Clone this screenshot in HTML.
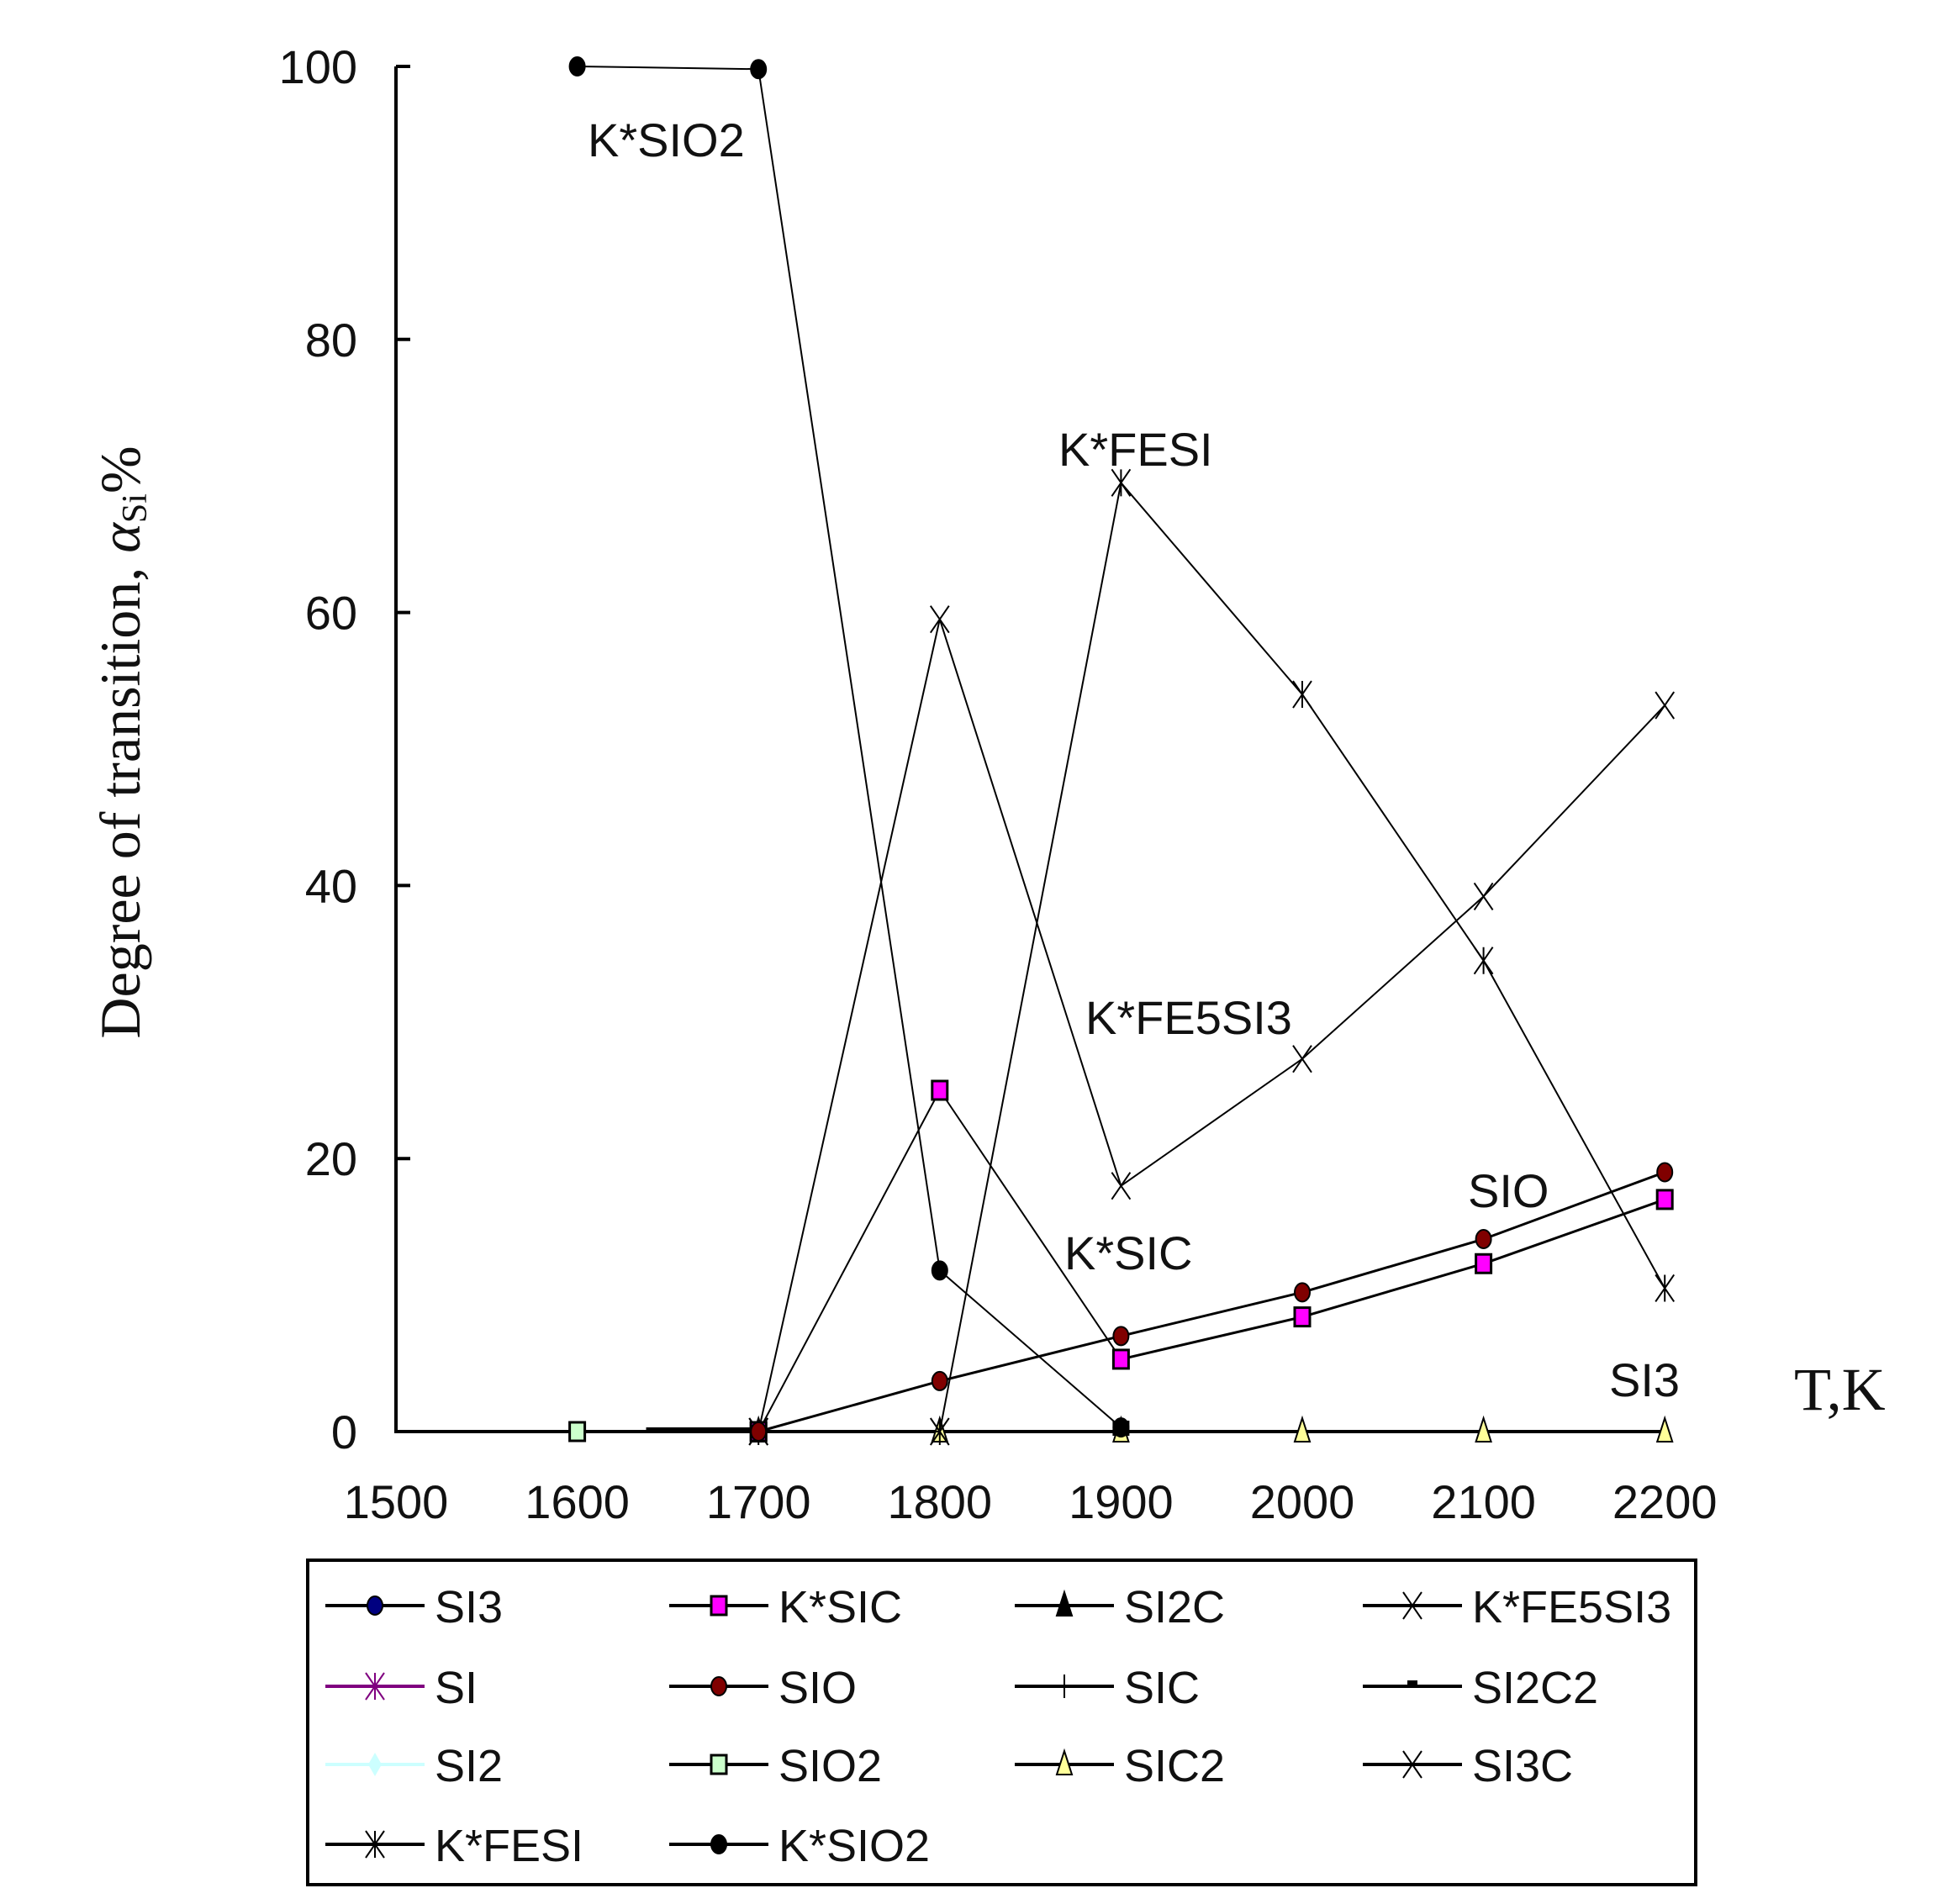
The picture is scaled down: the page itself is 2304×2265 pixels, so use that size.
<!DOCTYPE html>
<html><head><meta charset="utf-8"><style>
html,body{margin:0;padding:0;background:#fff;}
svg{display:block;}
text{font-family:"Liberation Sans",sans-serif;}
</style></head><body>
<svg id="chart" width="2304" height="2265" viewBox="0 0 2304 2265" xmlns="http://www.w3.org/2000/svg">
<g id="plot"></g>
<g id="labels">
<text x="699" y="186" font-size="56" fill="#111">K*SIO2</text>
<text x="1259" y="554" font-size="56" fill="#111">K*FESI</text>
<text x="1291" y="1230" font-size="56" fill="#111">K*FE5SI3</text>
<text x="1266" y="1510" font-size="56" fill="#111">K*SIC</text>
<text x="1746" y="1436" font-size="56" fill="#111">SIO</text>
<text x="1914" y="1661" font-size="56" fill="#111">SI3</text>
</g>
<text x="2134" y="1677" font-size="72" style="font-family:'Liberation Serif',serif" fill="#111">T,K</text>
<text transform="translate(166,883) rotate(-90)" text-anchor="middle" font-size="68" style="font-family:'Liberation Serif',serif" fill="#111">Degree of transition, <tspan font-style="italic">α</tspan><tspan font-size="42" dy="8">Si</tspan><tspan dy="-8">%</tspan></text>
<g id="legend"></g>
</svg>
<script>
const xTicks = [1500,1600,1700,1800,1900,2000,2100,2200];
const yTicks = [0,20,40,60,80,100];
const temps = [1600,1700,1800,1900,2000,2100,2200];
const ksio2 = [100,99.8,11.8,0.3,null,null,null];
const kfesi = [null,0,0,69.5,54,34.5,10.5];
const kfe5si3 = [null,0,59.5,18,27.3,39.2,53.2];
const ksic = [null,0,25,5.3,8.4,12.3,17];
const sio = [null,0,3.7,7,10.2,14.1,19];
const sio2 = [0,0,null,null,null,null,null];
const zeroSeries = [null,0,0,0,0,0,0];
const legendNames = ["SI3","K*SIC","SI2C","K*FE5SI3","SI","SIO","SIC","SI2C2","SI2","SIO2","SIC2","SI3C","K*FESI","K*SIO2"];

const NS="http://www.w3.org/2000/svg";
const X0=471, XS=215.6, Y0=1703, YS=16.24;
const xs=v=>X0+(v-1500)/100*XS;
const ys=v=>Y0-v*YS;
function mk(parent,tag,attrs){const e=document.createElementNS(NS,tag);for(const k in attrs)e.setAttribute(k,attrs[k]);parent.appendChild(e);return e;}
const plot=document.getElementById('plot');

let ax=mk(plot,'path',{d:`M${X0} ${ys(100)} V${Y0} H${xs(2200)+5}`,stroke:'#000','stroke-width':4,fill:'none'});


yTicks.forEach(t=>{
  const tk=mk(plot,'line',{x1:X0,x2:X0+17,y1:ys(t),y2:ys(t),stroke:'#000','stroke-width':4});
  
  
  const tl=mk(plot,'text',{x:425,y:ys(t)+20,'text-anchor':'end','font-size':56,fill:'#111'});
  tl.textContent=t;
  
  
});
xTicks.forEach(t=>{
  const tl=mk(plot,'text',{x:xs(t),y:1806,'text-anchor':'middle','font-size':56,fill:'#111'});
  tl.textContent=t;
  
  
});
const zs=mk(plot,'line',{x1:xs(1638),x2:xs(1700),y1:Y0-2,y2:Y0-2,stroke:'#000','stroke-width':6});



function marker(g,type,x,y,fill){
  let e;
  if(type==='circle') e=mk(g,'ellipse',{cx:x,cy:y,rx:9,ry:11,fill:fill,stroke:'#000','stroke-width':2});
  else if(type==='square') e=mk(g,'rect',{x:x-9,y:y-11,width:18,height:22,fill:fill,stroke:'#000','stroke-width':3});
  else if(type==='tri') e=mk(g,'path',{d:`M${x} ${y-16} L${x+9} ${y+12} L${x-9} ${y+12}Z`,fill:fill,stroke:'#000','stroke-width':2});
  else if(type==='x') e=mk(g,'path',{d:`M${x-11} ${y-16}L${x+11} ${y+16}M${x+11} ${y-16}L${x-11} ${y+16}`,stroke:'#000','stroke-width':2,fill:'none'});
  else if(type==='star') e=mk(g,'path',{d:`M${x-11} ${y-16}L${x+11} ${y+16}M${x+11} ${y-16}L${x-11} ${y+16}M${x} ${y-16}V${y+16}`,stroke:'#000','stroke-width':2,fill:'none'});
  else if(type==='plus') e=mk(g,'path',{d:`M${x-12} ${y}H${x+12}M${x} ${y-14}V${y+14}`,stroke:'#000','stroke-width':2,fill:'none'});
  return e;
}
function series(name,vals,type,fill,lw,thinUntil){
  const g=mk(plot,'g',{});
  
  
  for(let i=1;i<vals.length;i++){
    if(vals[i]===null||vals[i-1]===null) continue;
    const w=(thinUntil!==undefined && temps[i]<=thinUntil)?2:(lw||2);
    const p=mk(g,'line',{x1:xs(temps[i-1]),y1:ys(vals[i-1]),x2:xs(temps[i]),y2:ys(vals[i]),stroke:'#000','stroke-width':w});
    
    
  }
  vals.forEach((v,i)=>{ if(v===null)return; const m=marker(g,type,xs(temps[i]),ys(v),fill);
    
    
  });
}
series('zero-species',zeroSeries,'tri','#ffff99',4);
series('sio2',sio2,'square','#ccffcc',3);
series('k-fesi',kfesi,'star','#000',2);
series('k-fe5si3',kfe5si3,'x','#000',2);
series('k-sio2',ksio2,'circle','#000',2);
series('k-sic',ksic,'square','#ff00ff',3,1900);
series('sio',sio,'circle','#800000',3);
const bs=mk(plot,'rect',{x:xs(1900)-10,y:Y0-13,width:20,height:18,fill:'#000'});



const lg=document.getElementById('legend');
const box=mk(lg,'rect',{x:366,y:1856,width:1651,height:386,fill:'none',stroke:'#000','stroke-width':4});


const colX=[387,796,1207,1621], rowY=[1910,2006,2099,2194];
const lgStyle=[['circle','#000080','#000'],['square','#ff00ff','#000'],['tri','#000','#000'],['x','#000','#000'],
 ['star','#800080','#800080'],['circle','#800000','#000'],['plus','#000','#000'],['dash','#000','#000'],
 ['circle','#ccffff','#ccffff'],['square','#ccffcc','#000'],['tri','#ffff99','#000'],['x','#000','#000'],
 ['star','#000','#000'],['circle','#000','#000']];
legendNames.forEach((n,i)=>{
  const r=Math.floor(i/4), c=i%4, x=colX[c], y=rowY[r];
  const g=mk(lg,'g',{});
  
  
  const w=118;
  mk(g,'line',{x1:x,x2:x+w,y1:y,y2:y,stroke:lgStyle[i][2],'stroke-width':4});
  const mx=x+w/2;
  if(lgStyle[i][0]==='dash') mk(g,'rect',{x:mx-6,y:y-7,width:12,height:8,fill:'#000'});
  else if(lgStyle[i][0]==='star' && lgStyle[i][1]==='#800080'){const m=marker(g,'star',mx,y,'#800080');m.setAttribute('stroke','#800080');}
  else if(lgStyle[i][1]==='#ccffff'){mk(g,'path',{d:`M${mx} ${y-14}L${mx+8} ${y}L${mx} ${y+14}L${mx-8} ${y}Z`,fill:'#ccffff'});}
  else marker(g,lgStyle[i][0],mx,y,lgStyle[i][1]);
  const t=mk(g,'text',{x:x+w+12,y:y+20,'font-size':54,fill:'#111'});
  t.textContent=n;
});
</script>
</body></html>
